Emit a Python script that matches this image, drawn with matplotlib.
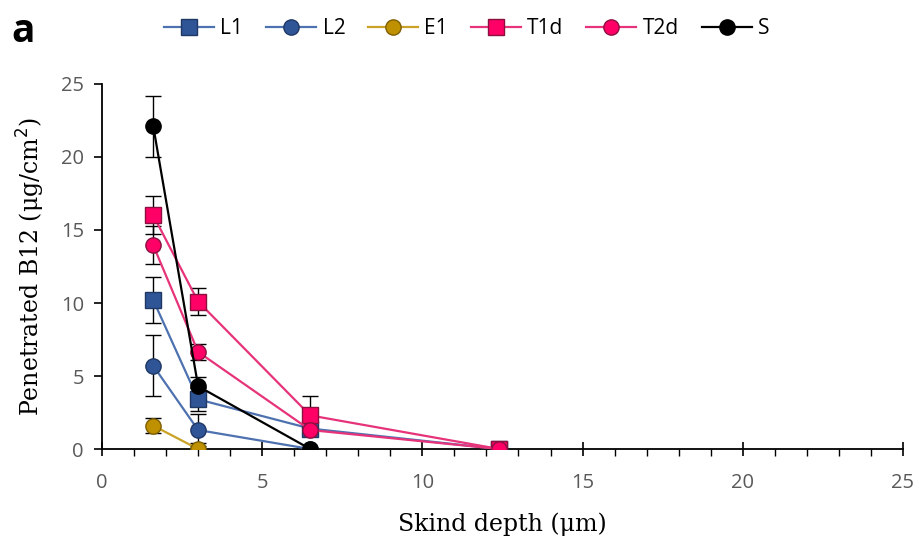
import matplotlib
matplotlib.use("Agg")
import matplotlib.pyplot as plt
from matplotlib.ticker import MultipleLocator

depth = [1.6, 3.0, 6.5, 12.4]

L1 = [10.2, 3.4, 1.4, 0.0]
L1_err = [1.6, 0.8, 0.0, 0.0]
L2 = [5.7, 1.3, 0.0]
L2_err = [2.1, 1.1, 0.0]
E1 = [1.6, 0.0]
E1_err = [0.5, 0.4]
T1d = [16.0, 10.1, 2.3, 0.0]
T1d_err = [1.3, 0.9, 1.35, 0.0]
T2d = [13.95, 6.65, 1.3, 0.0]
T2d_err = [1.3, 0.55, 0.0, 0.0]
S = [22.1, 4.3, 0.0]
S_err = [2.1, 0.65, 0.0]

series = [
    ("L1", L1, L1_err, "s", "#4E72B0", "#2F5597", "#1F3864"),
    ("L2", L2, L2_err, "o", "#4E72B0", "#2F5597", "#1F3864"),
    ("E1", E1, E1_err, "o", "#C9A227", "#BF9000", "#7F6000"),
    ("T1d", T1d, T1d_err, "s", "#E6337A", "#FF0066", "#8B1040"),
    ("T2d", T2d, T2d_err, "o", "#E6337A", "#FF0066", "#8B1040"),
    ("S", S, S_err, "o", "#000000", "#000000", "#000000"),
]

fig = plt.figure(figsize=(9.19, 5.38), dpi=100)
ax = fig.add_axes([0.111, 0.1654, 0.8715, 0.6785])

handles = []
for name, vals, errs, mk, lc, fc, ec in series:
    x = depth[:len(vals)]
    ax.errorbar(x, vals, yerr=errs, fmt="none", ecolor="black",
                elinewidth=1.0, capsize=6, capthick=1.0, zorder=2)
    h, = ax.plot(x, vals, color=lc, lw=1.6, marker=mk,
                 markersize=11 if mk == "o" else 11.5,
                 markerfacecolor=fc, markeredgecolor=ec, markeredgewidth=1.0,
                 label=name, zorder=3)
    handles.append(h)

ax.set_xlim(0, 25)
ax.set_ylim(0, 25)
ax.xaxis.set_major_locator(MultipleLocator(5))
ax.xaxis.set_minor_locator(MultipleLocator(1))
ax.yaxis.set_major_locator(MultipleLocator(5))

for s in ["top", "right"]:
    ax.spines[s].set_visible(False)
for s in ["left", "bottom"]:
    ax.spines[s].set_color("black")
    ax.spines[s].set_linewidth(1.3)

ax.tick_params(axis="x", which="major", direction="inout", length=10, width=1.2,
               colors="black", labelcolor="#595959", labelsize=14.5, pad=12)
ax.tick_params(axis="x", which="minor", direction="out", length=5, width=1.0, colors="black")
ax.tick_params(axis="y", which="major", direction="out", length=6, width=1.2,
               colors="black", labelcolor="#595959", labelsize=14.5, pad=7)
for lab in ax.get_xticklabels() + ax.get_yticklabels():
    lab.set_fontfamily("Open Sans")

ax.set_xlabel("Skind depth (μm)", fontsize=17, family="DejaVu Serif", labelpad=14)
ax.set_ylabel("Penetrated B12 (μg/cm$^2$)", fontsize=17, family="DejaVu Serif", labelpad=10)

leg = fig.legend(handles=handles, loc="center", bbox_to_anchor=(0.508, 0.947), ncol=6,
                 frameon=False, prop={"family": "Open Sans", "size": 15},
                 handlelength=2.4, handletextpad=0.3, columnspacing=1.1)

fig.text(0.012, 0.942, "a", fontsize=28, fontweight="bold", family="Open Sans",
         va="center", ha="left")

fig.savefig("out.png", dpi=100)
